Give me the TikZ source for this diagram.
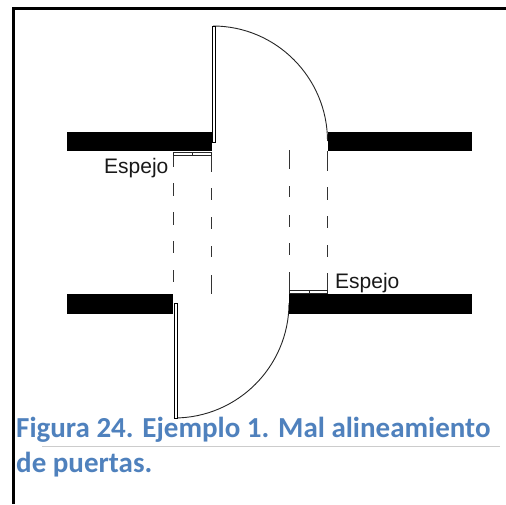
\documentclass[tikz,border=0pt]{standalone}
\usepackage{fontspec}
\setmainfont{Carlito}
\newfontfamily\labelfont{Liberation Sans}
\definecolor{capblue}{HTML}{4F81BD}
\tikzset{
  x=1pt,y=-1pt,
  wall/.style={fill=black,draw=none},
  doorleaf/.style={draw=black,fill=white,line width=0.8pt},
  swing/.style={draw=black!85,line width=0.9pt},
  axisdash/.style={draw=black!80,line width=0.9pt},
  mirror/.style={draw=black!85,fill=white,line width=0.8pt},
  espejo/.style={font=\labelfont\fontsize{21}{24}\selectfont,inner sep=0pt,anchor=base west,text=black!90},
  caption/.style={font=\bfseries\fontsize{29}{32}\selectfont,inner sep=0pt,anchor=base west,text=capblue}
}
\begin{document}
\begin{tikzpicture}
\useasboundingbox (0,0) rectangle (506,504);
\fill[white] (0,0) rectangle (506,504);
% frame
\fill[black] (12,7) rectangle (506,10);
\fill[black] (12,7) rectangle (15,504);
% door swings
\draw[swing] (213,26) .. controls (276.2,26) and (327.5,77.8) .. (327.5,141);
\draw[swing] (174,418) .. controls (237.5,418) and (289,366.5) .. (289,303);
% walls
\fill[wall] (67,131.5) rectangle (212,151);
\fill[wall] (327.5,131.5) rectangle (471.5,151);
\fill[wall] (67,293.5) rectangle (173,314);
\fill[wall] (289,293.5) rectangle (471.5,314);
% door leaves
\draw[doorleaf] (212.7,26) rectangle (215.5,142);
\draw[doorleaf] (174,303) rectangle (177,418.5);
% dashed jambs
\foreach \a/\b in {155/167,183/196,212/225,241/253,270/282}
  \draw[axisdash] (173,\a) -- (173,\b);
\foreach \a/\b in {155/172,188/200,217/229,246/257,275/294}
  \draw[axisdash] (211.5,\a) -- (211.5,\b);
\foreach \a/\b in {150/169,186/197,215/227,243/255,272/291}
  \draw[axisdash] (289.3,\a) -- (289.3,\b);
\foreach \a/\b in {151/171,187/200,216/228,245/257,273/291}
  \draw[axisdash] (327.5,\a) -- (327.5,\b);
% mirrors
\draw[mirror] (173,152.5) rectangle (211.5,155.5);
\draw[mirror] (192.5,152.5) -- (192.5,155.5);
\draw[mirror] (289,290) rectangle (327.5,293);
\draw[mirror] (309,290) -- (309,293);
% labels
\node[espejo] (espejoA) at (104,173) {Espejo};
\node[espejo] (espejoB) at (335,288.5) {Espejo};
% caption
\draw[black!20,line width=0.7pt] (42,446) -- (500,446);
\node[caption] (capA) at (16,437.5) {Figura 24. Ejemplo 1. Mal alineamiento};
\node[caption] (capB) at (16,472.5) {de puertas.};
\end{tikzpicture}
\end{document}
